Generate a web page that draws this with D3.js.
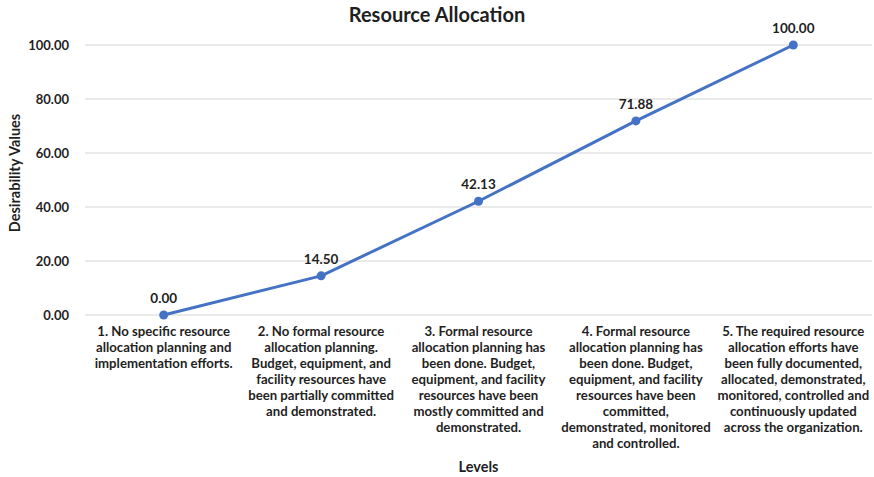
<!DOCTYPE html>
<html>
<head>
<meta charset="utf-8">
<script src="https://cdn.jsdelivr.net/npm/d3@7/dist/d3.min.js"></script>
<style>
body { margin: 0; background: #fff; }
svg { display: block; font-family: Lato, "Open Sans", sans-serif; }
</style>
</head>
<body>
<svg id="chart" width="874" height="477"></svg>
<script>
const categories = [
  ["1. No specific resource", "allocation planning and", "implementation efforts."],
  ["2. No formal resource", "allocation planning.", "Budget, equipment, and", "facility resources have", "been partially committed", "and demonstrated."],
  ["3. Formal resource", "allocation planning has", "been done. Budget,", "equipment, and facility", "resources have been", "mostly committed and", "demonstrated."],
  ["4. Formal resource", "allocation planning has", "been done. Budget,", "equipment, and facility", "resources have been", "committed,", "demonstrated, monitored", "and controlled."],
  ["5. The required resource", "allocation efforts have", "been fully documented,", "allocated, demonstrated,", "monitored, controlled and", "continuously updated", "across the organization."]
];
const values = [0.00, 14.50, 42.13, 71.88, 100.00];
const yTicks = [0, 20, 40, 60, 80, 100];
const title = "Resource Allocation";
const yTitle = "Desirability Values";
const xTitle = "Levels";

const ink = "#1f1f1f";
const svg = d3.select("#chart");
const margin = {left: 85, right: 2, top: 45, bottom: 162};
const W = 874, H = 477;
const x = d3.scaleBand().domain(d3.range(categories.length)).range([margin.left, W - margin.right]);
const y = d3.scaleLinear().domain([0, 100]).range([H - margin.bottom, margin.top]);

// gridlines
svg.append("g").selectAll("line").data(yTicks).join("line")
  .attr("x1", margin.left).attr("x2", W - margin.right)
  .attr("y1", d => y(d)).attr("y2", d => y(d))
  .attr("stroke", "#e3e3e3").attr("stroke-width", 1.3);

// y axis labels
const yAxis = d3.axisLeft(y).tickValues(yTicks).tickFormat(d3.format(".2f")).tickSize(0).tickPadding(16);
const gy = svg.append("g").attr("transform", `translate(${margin.left},0)`).call(yAxis);
gy.select(".domain").remove();
gy.selectAll("text").attr("font-size", 13).attr("font-weight", "bold").attr("fill", ink)
  .attr("font-family", "Lato, 'Open Sans', sans-serif");

// x category labels
const xg = svg.append("g");
categories.forEach((lines, i) => {
  const t = xg.append("text").attr("text-anchor", "middle")
    .attr("font-size", 13.2).attr("font-weight", "bold").attr("fill", ink);
  lines.forEach((ln, j) => {
    t.append("tspan").attr("x", x(i) + x.bandwidth() / 2).attr("y", 336 + j * 16).text(ln);
  });
});

// line
const line = d3.line().x((d, i) => x(i) + x.bandwidth() / 2).y(d => y(d));
svg.append("path").datum(values).attr("d", line)
  .attr("fill", "none").attr("stroke", "#4472C4").attr("stroke-width", 3).attr("stroke-linejoin", "round");

svg.append("g").selectAll("circle").data(values).join("circle")
  .attr("cx", (d, i) => x(i) + x.bandwidth() / 2).attr("cy", d => y(d)).attr("r", 4.5)
  .attr("fill", "#4472C4");

// data labels
svg.append("g").selectAll("text").data(values).join("text")
  .attr("x", (d, i) => x(i) + x.bandwidth() / 2).attr("y", d => y(d) - 12)
  .attr("text-anchor", "middle").attr("font-size", 13.5).attr("font-weight", "bold").attr("fill", ink)
  .text(d => d3.format(".2f")(d));

// titles
svg.append("text").attr("x", 437).attr("y", 22).attr("text-anchor", "middle")
  .attr("font-size", 20).attr("font-weight", "bold").attr("fill", ink).text(title);
svg.append("text").attr("transform", `translate(20,${(y(0) + y(100)) / 2 - 7}) rotate(-90)`)
  .attr("text-anchor", "middle").attr("font-size", 14.5).attr("font-weight", "bold").attr("fill", ink).text(yTitle);
svg.append("text").attr("x", x(2) + x.bandwidth() / 2).attr("y", 472).attr("text-anchor", "middle")
  .attr("font-size", 14.5).attr("font-weight", "bold").attr("fill", ink).text(xTitle);
</script>
</body>
</html>
